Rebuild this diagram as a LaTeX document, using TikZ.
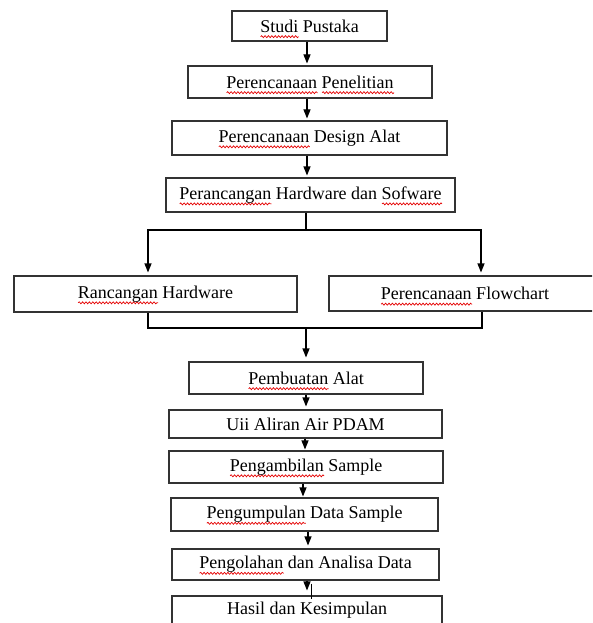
\documentclass[tikz,border=0pt]{standalone}
\usepackage{fontspec}
\setmainfont{Liberation Serif}
\usetikzlibrary{arrows.meta,decorations.pathmorphing}
\newdimen\rwd
\newcommand\rw[1]{\leavevmode\setbox0\hbox{#1}\rwd=\wd0\relax\rlap{\raisebox{-4.5pt}[0pt][0pt]{\tikz[x=1pt,y=1pt,baseline=0pt]{\draw[red!90!black, line width=0.7pt, decorate, decoration={snake, amplitude=1pt, segment length=3.4pt}] (0pt,0pt) -- (\rwd,0pt);}}}\box0\relax}
\tikzset{
  box/.style={draw=black!80, line width=1.1pt, inner sep=0pt, font=\fontsize{18}{21}\selectfont},
  txt/.style={inner sep=0pt, font=\fontsize{18}{21}\selectfont},
  conn/.style={draw=black, line width=1.1pt},
  arr/.style={conn, -{Triangle[length=9pt,width=7pt]}}
}
\begin{document}
\begin{tikzpicture}[x=1pt,y=-1pt]
\clip (0,0) rectangle (592,623);
\fill[white] (0,0) rectangle (592,623);
% boxes
\node[box, minimum width=155pt, minimum height=30pt] (b1) at (309.5,26) {\rw{Studi} Pustaka};
\node[box, minimum width=244pt, minimum height=32pt] (b2) at (310,82) {\rw{Perencanaan} \rw{Penelitian}};
\node[box, minimum width=275pt, minimum height=34pt] (b3) at (309.5,138) {\rw{Perencanaan} Design Alat};
\node[box, minimum width=289pt, minimum height=34pt] (b4) at (310.5,195) {\rw{Perancangan} Hardware dan \rw{Sofware}};
\node[box, minimum width=283pt, minimum height=36pt] (b5) at (155.5,294) {\rw{Rancangan} Hardware};
\node[box, minimum width=272pt, minimum height=35pt] (b6) at (465,293.5) {\rw{Perencanaan} Flowchart};
\node[box, minimum width=234pt, minimum height=32pt] (b7) at (306,378) {\rw{Pembuatan} Alat};
\node[box, minimum width=273pt, minimum height=28pt] (b8) at (305.5,424) {Uii Aliran Air PDAM};
\node[box, minimum width=274pt, minimum height=32pt] (b9) at (306,467) {\rw{Pengambilan} Sample};
\node[box, minimum width=267pt, minimum height=33pt] (b10) at (304.5,514.5) {\rw{Pengumpulan} Data Sample};
\node[box, minimum width=267pt, minimum height=31pt] (b11) at (305.5,564.5) {\rw{Pengolahan} dan Analisa Data};
\node[box, minimum width=270pt, minimum height=48pt] (b12) at (307,620) {};
\node[txt] (t12) at (307,610) {Hasil dan Kesimpulan};
% x positions of connectors
\coordinate (x1) at (307,0);
\coordinate (x2) at (307,0);
\coordinate (x3) at (307,0);
\coordinate (jt) at (306,230);
\coordinate (jl) at (148,230);
\coordinate (jr) at (481,230);
\coordinate (kl) at (148,328);
\coordinate (kc) at (306,328);
\coordinate (kr) at (482,328);
\coordinate (x7) at (306,0);
\coordinate (x8) at (305,0);
\coordinate (x9) at (303,0);
\coordinate (x10) at (308,0);
\coordinate (x11) at (307,0);
\coordinate (xs) at (311,0);
% connectors
\draw[arr, shorten >=2pt] (b1.south -| x1) -- (b2.north -| x1);
\draw[arr, shorten >=2pt] (b2.south -| x2) -- (b3.north -| x2);
\draw[arr, shorten >=2pt] (b3.south -| x3) -- (b4.north -| x3);
\draw[conn] (b4.south -| jt) -- (jt);
\draw[arr, shorten >=3pt] (jt) -| (b5.north -| jl);
\draw[arr, shorten >=3pt] (jt) -| (b6.north -| jr);
\draw[conn] (b5.south -| kl) -- (kl) -- (kr) -- (b6.south -| kr);
\draw[arr, shorten >=4pt] (kc) -- (b7.north -| kc);
\draw[arr, shorten >=3pt] (b7.south -| x7) -- (b8.north -| x7);
\draw[arr, shorten >=1pt] (b8.south -| x8) -- (b9.north -| x8);
\draw[arr, shorten >=1pt] (b9.south -| x9) -- (b10.north -| x9);
\draw[arr, shorten >=3pt] (b10.south -| x10) -- (b11.north -| x10);
\draw[arr, shorten >=5pt] (b11.south -| x11) -- (b12.north -| x11);
\draw[conn, line width=0.8pt, shorten <=3pt, shorten >=-4pt] (b11.south -| xs) -- (b12.north -| xs);
\end{tikzpicture}
\end{document}
